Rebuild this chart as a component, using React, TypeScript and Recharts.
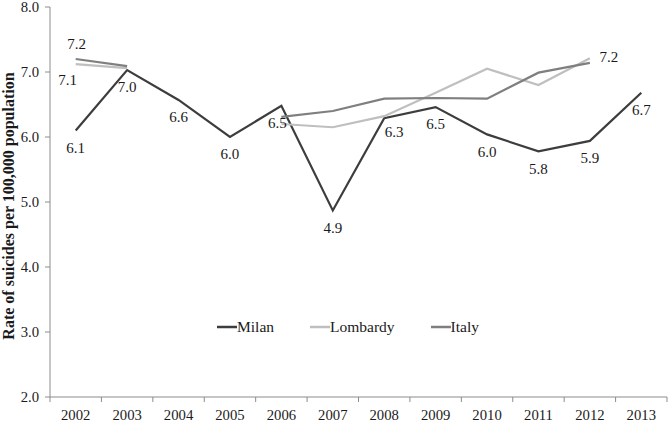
import React from 'react';
import { LineChart, Line, XAxis, YAxis, Legend, LabelList } from 'recharts';

const years = ['2002', '2003', '2004', '2005', '2006', '2007', '2008', '2009', '2010', '2011', '2012', '2013'];
const milan = [6.1, 7.03, 6.57, 6.0, 6.48, 4.87, 6.29, 6.46, 6.04, 5.78, 5.94, 6.68];
const lombardy = [7.12, 7.06, null, null, 6.2, 6.15, 6.32, 6.68, 7.05, 6.8, 7.21, null];
const italy = [7.2, 7.09, null, null, 6.31, 6.4, 6.59, 6.6, 6.59, 6.99, 7.14, null];
const yTicks = [2, 3, 4, 5, 6, 7, 8];
const seriesNames = ['Milan', 'Lombardy', 'Italy'];

const data = years.map((y, i) => ({ year: y, Milan: milan[i], Lombardy: lombardy[i], Italy: italy[i] }));

const FONT = 'Liberation Serif';
const AXIS = '#8c8c8c';
const TEXT = '#1a1a1a';
const LABEL_SIZE = 15;
const TICK_SIZE = 14.7;

const milanShift: Record<number, [number, number]> = { 4: [-4, 0], 6: [10, -3] };

const MilanLabel = (props: any) => {
  const { x, y, value, index } = props;
  if (value == null) return null;
  const [dx, dy] = milanShift[index] || [0, 0];
  return (
    <text x={x + dx} y={y + 17 + dy} dy="0.35em" textAnchor="middle" style={{ fontFamily: FONT }} fontSize={LABEL_SIZE} fill={TEXT}>
      {Number(value).toFixed(1)}
    </text>
  );
};

const LombardyLabel = (props: any) => {
  const { x, y, value, index } = props;
  if (value == null) return null;
  if (index === 0)
    return (
      <text x={x - 8} y={y + 16} dy="0.35em" textAnchor="middle" style={{ fontFamily: FONT }} fontSize={LABEL_SIZE} fill={TEXT}>
        {Number(value).toFixed(1)}
      </text>
    );
  if (index === 10)
    return (
      <text x={x + 19} y={y - 2} dy="0.35em" textAnchor="middle" style={{ fontFamily: FONT }} fontSize={LABEL_SIZE} fill={TEXT}>
        {Number(value).toFixed(1)}
      </text>
    );
  return null;
};

const ItalyLabel = (props: any) => {
  const { x, y, value, index } = props;
  if (value == null || index !== 0) return null;
  return (
    <text x={x + 1} y={y - 15} dy="0.35em" textAnchor="middle" style={{ fontFamily: FONT }} fontSize={LABEL_SIZE} fill={TEXT}>
      {Number(value).toFixed(1)}
    </text>
  );
};

const XTick = (props: any) => {
  const { x, y, payload, index } = props;
  const bw = 617 / years.length;
  return (
    <g>
      <line x1={x - bw / 2} y1={y - 8} x2={x - bw / 2} y2={y - 3} stroke={AXIS} />
      {index === years.length - 1 && <line x1={x + bw / 2} y1={y - 8} x2={x + bw / 2} y2={y - 3} stroke={AXIS} />}
      <text x={x} y={y + 10} dy="0.35em" textAnchor="middle" style={{ fontFamily: FONT }} fontSize={TICK_SIZE} fill={TEXT}>
        {payload.value}
      </text>
    </g>
  );
};

const LegendContent = (props: any) => {
  const payload = [...(props.payload || [])].sort(
    (a: any, b: any) => seriesNames.indexOf(a.value) - seriesNames.indexOf(b.value)
  );
  return (
    <div style={{ display: 'flex', fontFamily: FONT, fontSize: 15.5, color: TEXT, lineHeight: '18px' }}>
      {payload.map((p: any, i: number) => (
        <div key={i} style={{ display: 'flex', alignItems: 'center', marginRight: 36 }}>
          <svg width={20} height={18}>
            <line x1={0} y1={9} x2={20} y2={9} stroke={p.color} strokeWidth={2.5} />
          </svg>
          <span>{p.value}</span>
        </div>
      ))}
    </div>
  );
};

export default function App() {
  return (
    <div style={{ position: 'absolute', left: 0, top: 0, background: '#fff', fontFamily: FONT }}>
      <LineChart width={670} height={440} data={data} margin={{ top: 7, right: 3, left: 0, bottom: 0 }}>
        <XAxis
          dataKey="year"
          scale="band"
          height={25}
          stroke={AXIS}
          tickLine={false}
          tick={<XTick />}
          interval={0}
        />
        <YAxis
          width={50}
          domain={[2, 8]}
          ticks={yTicks}
          stroke={AXIS}
          tickSize={5}
          tickMargin={6}
          interval={0}
          tickFormatter={(v: number) => v.toFixed(1)}
          tick={{ fontSize: TICK_SIZE, fill: TEXT, style: { fontFamily: FONT } }}
          label={(lp: any) => {
            const vb = lp.viewBox;
            const cx = 8;
            const cy = vb.y + vb.height / 2 + 4;
            return (
              <text
                x={cx}
                y={cy}
                transform={`rotate(-90, ${cx}, ${cy})`}
                textAnchor="middle"
                dy="0.35em"
                style={{ fontFamily: FONT }}
                fontSize={16}
                fontWeight="bold"
                fill={TEXT}
              >
                Rate of suicides per 100,000 population
              </text>
            );
          }}
        />
        <Legend
          content={<LegendContent />}
          wrapperStyle={{ position: 'absolute', left: 217, top: 318, width: 'auto' }}
        />
        <Line dataKey="Milan" stroke="#3d3d3d" strokeWidth={2.2} dot={false} isAnimationActive={false}>
          <LabelList dataKey="Milan" content={<MilanLabel />} />
        </Line>
        <Line dataKey="Lombardy" stroke="#bfbfbf" strokeWidth={2.2} dot={false} isAnimationActive={false}>
          <LabelList dataKey="Lombardy" content={<LombardyLabel />} />
        </Line>
        <Line dataKey="Italy" stroke="#7f7f7f" strokeWidth={2.2} dot={false} isAnimationActive={false}>
          <LabelList dataKey="Italy" content={<ItalyLabel />} />
        </Line>
      </LineChart>
    </div>
  );
}
